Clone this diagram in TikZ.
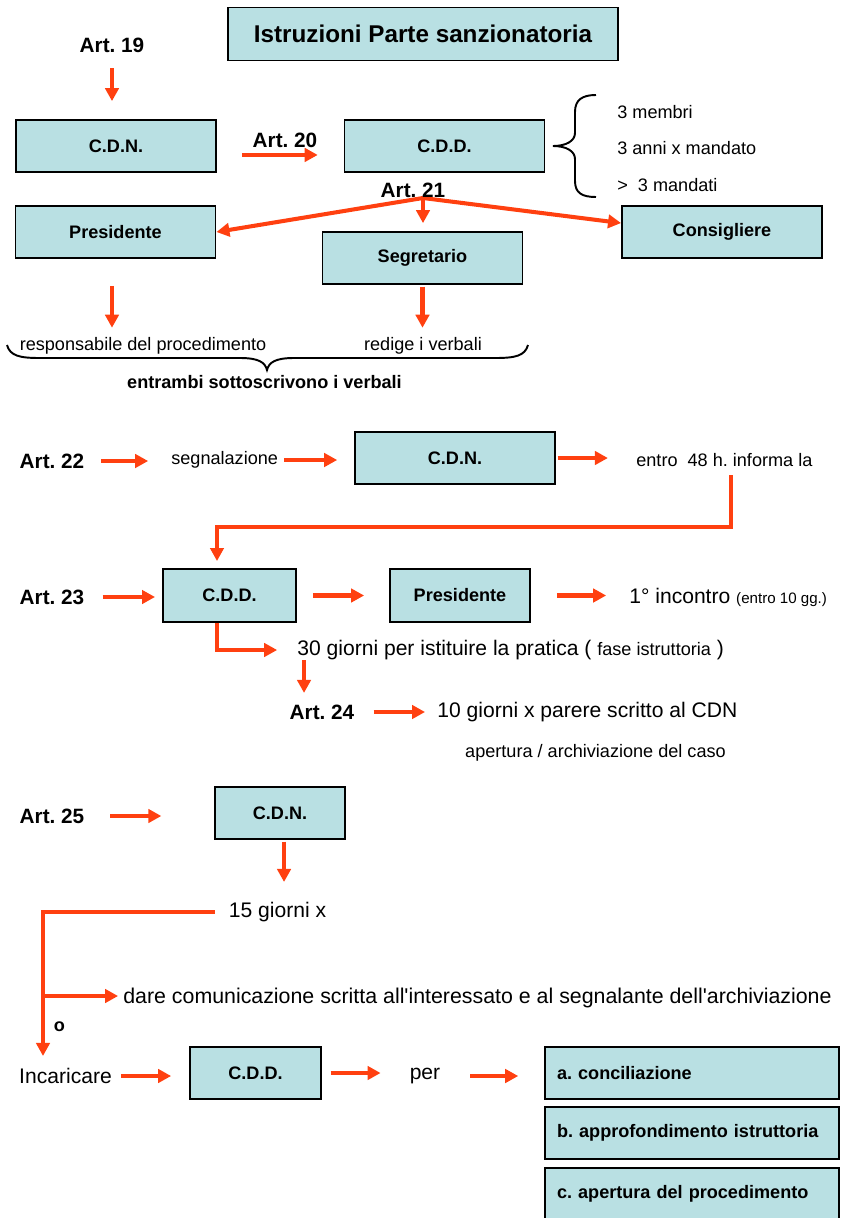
\documentclass[tikz,border=0pt]{standalone}
\usepackage{fontspec}
\setmainfont{Liberation Sans}
\usetikzlibrary{arrows.meta}
\definecolor{rosso}{RGB}{255,64,16}
\definecolor{azzurro}{RGB}{185,224,227}
\frenchspacing

\begin{document}
\begin{tikzpicture}[x=0.02cm,y=-0.02cm]
  \tikzstyle{scatola}=[draw=black, line width=1.1pt, fill=azzurro, minimum width=4cm, minimum height=1.04cm, inner sep=0, font=\fontsize{10.3}{12}\selectfont\bfseries];
  \tikzstyle{lista}=[scatola, minimum width=5.88cm, text width=5.4cm, align=left, inner xsep=0.24cm];
  \tikzstyle{art}=[inner sep=0, font=\fontsize{11.8}{14}\selectfont\bfseries];
  \tikzstyle{testo}=[inner sep=0, font=\fontsize{10.3}{12}\selectfont];
  \tikzstyle{grande}=[inner sep=0, font=\fontsize{12}{14}\selectfont];
  \tikzstyle{freccia}=[draw=rosso, line width=2.3pt, -{Triangle[length=7.4pt,width=7.6pt]}];
  \tikzstyle{graffa}=[draw=black, line width=1.1pt];

  \useasboundingbox (0,0) rectangle (840,1218);

  \node[scatola, minimum width=7.8cm, minimum height=1.06cm, font=\fontsize{13.8}{16}\selectfont\bfseries] (titolo) at (423,34) {Istruzioni Parte sanzionatoria};

  \node[art] (art19) at (112,45) {Art. 19};
  \node[scatola] (cdn1) at (116,146) {C.D.N.};
  \node[art] (art20) at (285,140) {Art. 20};
  \node[scatola] (cdd1) at (444.5,146) {C.D.D.};
  \node[testo, anchor=west] (membri) at (617,112) {3 membri};
  \node[testo, anchor=west] (anni) at (617,148) {3 anni x mandato};
  \node[testo, anchor=west] (mandati) at (617,185) {> \ 3 mandati};
  \draw[graffa] (596,95) .. controls (582,95) and (575,100) .. (575,112) -- (575,133)
    .. controls (575,141) and (566,146) .. (553,146) .. controls (566,146) and (575,151) .. (575,159)
    -- (575,181) .. controls (575,193) and (582,197) .. (596,197);

  \coordinate (o21) at (423,198);
  \node[scatola] (pres1) at (115.5,232) {Presidente};
  \node[scatola] (segr) at (422.5,258) {Segretario};
  \node[scatola] (cons) at (722,232) {Consigliere};
  \node[testo] (resp) at (143,346) {responsabile del procedimento};
  \node[testo] (redige) at (423,346) {redige i verbali};
  \node[testo, font=\fontsize{10.3}{12}\selectfont\bfseries] (entrambi) at (264.5,382) {entrambi sottoscrivono i verbali};

  \draw[freccia, shorten <=8.8pt, shorten >=10.2pt] (art19.south) -- (art19.south |- cdn1.north);
  \draw[freccia, shorten <=14.2pt, shorten >=14.7pt] ([yshift=-5.1pt]cdn1.east) -- ([yshift=-5.1pt]cdn1.east -| cdd1.west);
  \draw[freccia] (o21) -- (pres1.east);
  \draw[freccia] (o21) -- ([yshift=5.1pt]cons.west);
  \draw[freccia, shorten >=4.5pt] (o21) -- (o21 |- segr.north);
  \node[art] (art21) at (413,190) {Art. 21};
  \draw[freccia, shorten <=15.3pt, shorten >=5.4pt] ([xshift=-2pt]pres1.south) -- ([xshift=-2pt]pres1.south |- resp.north);
  \draw[freccia, shorten <=1pt, shorten >=5.4pt] (segr.south) -- (segr.south |- redige.north);
  \draw[graffa] (7,345) .. controls (10,356) and (20,358) .. (40,358) -- (240,358)
    .. controls (258,358) and (265,362) .. (267,370) .. controls (269,362) and (276,358) .. (294,358)
    -- (495,358) .. controls (515,358) and (525,356) .. (528,345);

  \node[art] (art22) at (52,461) {Art. 22};
  \node[testo, anchor=west] (segn) at (171,460) {segnalazione};
  \node[scatola] (cdn2) at (455,458) {C.D.N.};
  \node[testo, anchor=west] (entro) at (636,460) {entro \ 48 h. informa la};
  \draw[freccia, shorten <=9.6pt, shorten >=13pt] (art22.east) -- (art22.east -| segn.west);
  \draw[freccia, shorten <=3.4pt, shorten >=9.6pt] (segn.east) -- (segn.east -| cdn2.west);
  \draw[freccia, shorten <=1pt, shorten >=16pt] (cdn2.east) -- (cdn2.east -| entro.west);

  \node[art] (art23) at (52,597) {Art. 23};
  \node[scatola, minimum width=2.66cm, minimum height=1.06cm] (cdd2) at (229.5,595.5) {C.D.D.};
  \node[scatola, minimum width=2.8cm, minimum height=1.06cm] (pres2) at (460,595.5) {Presidente};
  \node[grande, anchor=west] (incontro) at (629,597) {1° incontro {\fontsize{8.6}{10}\selectfont (entro 10 gg.)}};
  \coordinate (k22) at (731,475);
  \coordinate (k23) at (217,527);
  \draw[freccia, line width=1.8pt, shorten >=4pt] (k22) |- (k23) -- (k23 |- cdd2.north);
  \draw[freccia, shorten <=10.2pt, shorten >=4pt] (art23.east) -- (art23.east -| cdd2.west);
  \draw[freccia, shorten <=9pt, shorten >=14.2pt] (cdd2.east) -- (cdd2.east -| pres2.west);
  \draw[freccia, shorten <=14.7pt, shorten >=13pt] (pres2.east) -- (pres2.east -| incontro.west);

  \node[grande, anchor=west] (giorni30) at (297,650) {30 giorni per istituire la pratica ( {\fontsize{10.3}{12}\selectfont fase istruttoria} )};
  \draw[freccia, shorten >=11.3pt] (cdd2.south -| k23) |- (giorni30.west);
  \node[art] (art24) at (322,712) {Art. 24};
  \node[grande, anchor=west] (parere) at (437,712) {10 giorni x parere scritto al CDN};
  \node[testo] (apertura) at (595.5,753) {apertura / archiviazione del caso};
  \draw[freccia, shorten >=6.5pt] ([xshift=4pt]giorni30.south west) -- ([xshift=4pt]giorni30.south west |- art24.north);
  \draw[freccia, shorten <=10.8pt, shorten >=6.8pt] (art24.east) -- (art24.east -| parere.west);

  \node[art] (art25) at (52,816) {Art. 25};
  \node[scatola, minimum width=2.6cm] (cdn3) at (280,813) {C.D.N.};
  \node[grande] (giorni15) at (277.5,912) {15 giorni x};
  \draw[freccia, shorten <=14.7pt, shorten >=30pt] (art25.east) -- (art25.east -| cdn3.west);
  \draw[freccia, shorten <=1pt, shorten >=11.3pt] ([xshift=2.3pt]cdn3.south) -- ([xshift=2.3pt]cdn3.south |- giorni15.north);

  \coordinate (nodo) at (43,996);
  \node[grande, anchor=west, font=\fontsize{12.15}{14}\selectfont] (dare) at (123,998) {dare comunicazione scritta all\textquotesingle interessato e al segnalante dell\textquotesingle archiviazione};
  \node[testo, font=\fontsize{10.3}{12}\selectfont\bfseries] (oppure) at (59.5,1027) {o};
  \node[grande] (incar) at (65.5,1076) {Incaricare};
  \draw[freccia, shorten >=6.8pt] ([xshift=-7.9pt]giorni15.west) -| (nodo) -- (nodo |- incar.north);
  \draw[freccia, shorten >=2.8pt] (nodo) -- (nodo -| dare.west);

  \node[scatola, minimum width=2.62cm] (cdd3) at (255.5,1073) {C.D.D.};
  \node[grande] (per) at (425,1076) {per};
  \node[lista] (conc) at (692,1073) {a. conciliazione};
  \node[lista] (appr) at (692,1133) {b. approfondimento istruttoria};
  \node[lista] (proc) at (692,1194) {c. apertura del procedimento};
  \draw[freccia, shorten <=5pt, shorten >=10.2pt] (incar.east) -- (incar.east -| cdd3.west);
  \draw[freccia, shorten <=5pt, shorten >=16.4pt] (cdd3.east) -- (cdd3.east -| per.west);
  \draw[freccia, shorten <=17pt, shorten >=14.7pt] (per.east) -- (per.east -| conc.west);
\end{tikzpicture}
\end{document}
